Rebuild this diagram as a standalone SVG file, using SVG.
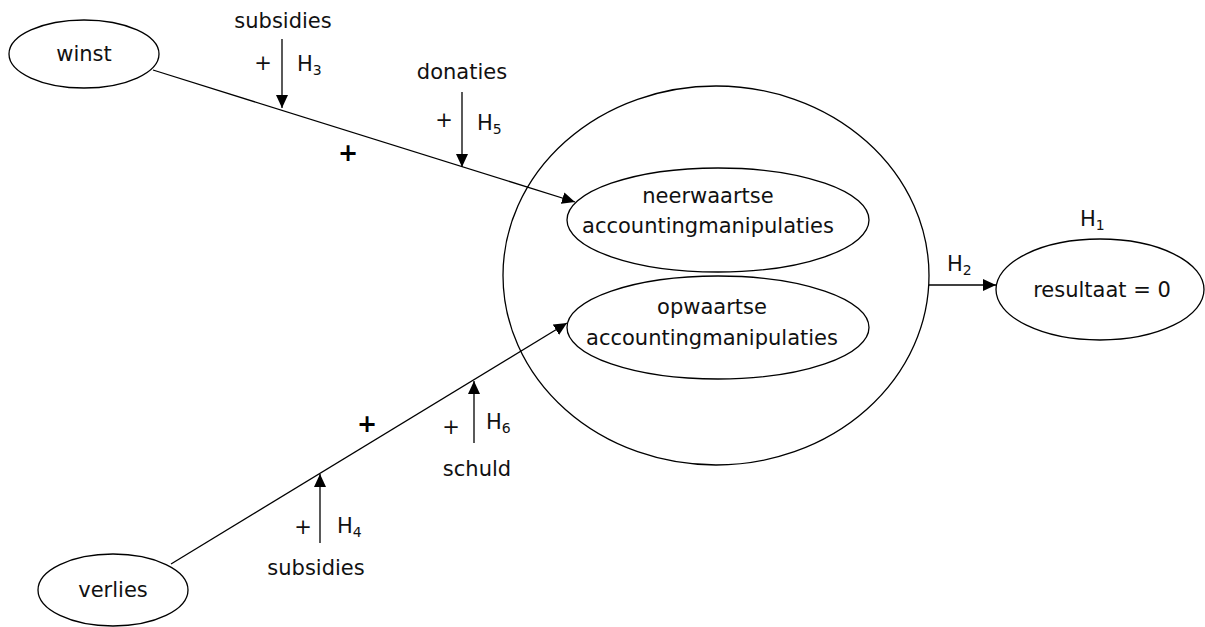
<svg xmlns="http://www.w3.org/2000/svg" width="1205" height="627" viewBox="0 0 1205 627">
<defs>
<style>
.n{fill:#fff;stroke:#000;stroke-width:1.3}
.t{font-family:"DejaVu Sans",Verdana,sans-serif;font-size:21px;fill:#111;text-anchor:middle}
.l{font-family:"DejaVu Sans",Verdana,sans-serif;font-size:21px;fill:#111}
.s{font-size:14px}
.c{stroke:#000;stroke-width:1.3;fill:none}
.b{font-family:"DejaVu Sans",Verdana,sans-serif;font-size:24px;font-weight:bold;fill:#000;text-anchor:middle}
</style>
<marker id="ah" markerUnits="userSpaceOnUse" markerWidth="14" markerHeight="12" refX="13" refY="6" orient="auto">
<path d="M0,0 L13,6 L0,12 Z" fill="#000"/>
</marker>
</defs>
<rect width="1205" height="627" fill="#fff"/>
<g id="groep">
<ellipse class="n" cx="716" cy="275.5" rx="213" ry="189.5"/>
</g>
<g id="winst">
<ellipse class="n" cx="84" cy="54" rx="75" ry="34"/>
<text class="t" x="84" y="61">winst</text>
</g>
<g id="verlies">
<ellipse class="n" cx="113" cy="590" rx="75" ry="36"/>
<text class="t" x="113" y="597">verlies</text>
</g>
<g id="neerwaartse">
<ellipse class="n" cx="718" cy="220" rx="151" ry="52"/>
<text class="t" x="708" y="203">neerwaartse</text>
<text class="t" x="708" y="233">accountingmanipulaties</text>
</g>
<g id="opwaartse">
<ellipse class="n" cx="718" cy="327.5" rx="151" ry="51.5"/>
<text class="t" x="712" y="314">opwaartse</text>
<text class="t" x="712" y="345">accountingmanipulaties</text>
</g>
<g id="resultaat">
<ellipse class="n" cx="1100" cy="289.5" rx="104" ry="50.5"/>
<text class="t" x="1102" y="297">resultaat = 0</text>
<text class="l" x="1080" y="226">H<tspan class="s" dy="4">1</tspan></text>
</g>
<g id="connectors">
<line class="c" x1="153" y1="70" x2="575" y2="202" marker-end="url(#ah)"/>
<line class="c" x1="171" y1="564" x2="567" y2="323" marker-end="url(#ah)"/>
<line class="c" x1="929" y1="285" x2="996" y2="285" marker-end="url(#ah)"/>
<line class="c" x1="282" y1="39" x2="282" y2="108" marker-end="url(#ah)"/>
<line class="c" x1="462" y1="92" x2="462" y2="167" marker-end="url(#ah)"/>
<line class="c" x1="320" y1="543" x2="320" y2="474" marker-end="url(#ah)"/>
<line class="c" x1="474" y1="443" x2="474" y2="381" marker-end="url(#ah)"/>
</g>
<g id="labels">
<text class="t" x="283" y="28">subsidies</text>
<text class="t" x="263" y="70">+</text>
<text class="l" x="297" y="71">H<tspan class="s" dy="4">3</tspan></text>
<text class="t" x="462" y="79">donaties</text>
<text class="t" x="444" y="127">+</text>
<text class="l" x="477" y="130">H<tspan class="s" dy="4">5</tspan></text>
<text class="b" x="348" y="161">+</text>
<text class="b" x="367" y="432">+</text>
<text class="t" x="303" y="534">+</text>
<text class="l" x="337" y="533">H<tspan class="s" dy="4">4</tspan></text>
<text class="t" x="316" y="575">subsidies</text>
<text class="t" x="451" y="434">+</text>
<text class="l" x="486" y="429">H<tspan class="s" dy="4">6</tspan></text>
<text class="t" x="477" y="476">schuld</text>
<text class="l" x="947" y="271">H<tspan class="s" dy="4">2</tspan></text>
</g>
</svg>
